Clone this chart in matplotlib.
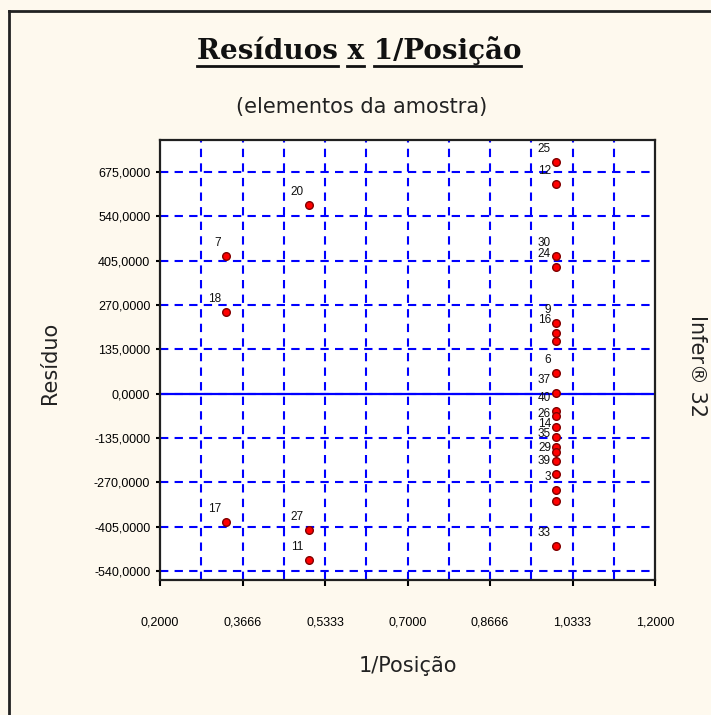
import matplotlib
matplotlib.use("Agg")
import matplotlib.pyplot as plt
from matplotlib.lines import Line2D
import numpy as np

# ---- data ----
inv_pos = [1/3, 1/3, 1/3,
           0.5, 0.5, 0.5,
           1.0, 1.0, 1.0, 1.0, 1.0, 1.0, 1.0, 1.0, 1.0, 1.0,
           1.0, 1.0, 1.0, 1.0, 1.0, 1.0, 1.0, 1.0, 1.0, 1.0]
residuals = [419, 249, -392,
             574, -415, -506,
             706, 639, 419, 385, 216, 184, 159, 64, 1, -52,
             -67, -103, -133, -164, -179, -204, -245, -295, -326, -463]
point_labels = ['7', '18', '17',
                '20', '27', '11',
                '25', '12', '30', '24', '9', '16', '', '6', '37', '40',
                '', '26', '14', '35', '', '29', '39', '3', '', '33']

xtick_vals = [0.2, 0.2 + 1/6, 0.2 + 2/6, 0.7, 0.2 + 4/6, 0.2 + 5/6, 1.2]
xtick_labels = ['0,2000', '0,3666', '0,5333', '0,7000', '0,8666', '1,0333', '1,2000']
xminor_vals = [0.2 + k/12 for k in range(13)]
ytick_vals = [-540, -405, -270, -135, 0, 135, 270, 405, 540, 675]
ytick_labels = ['-540,0000', '-405,0000', '-270,0000', '-135,0000', '0,0000',
                '135,0000', '270,0000', '405,0000', '540,0000', '675,0000']

title_words = ['Resíduos', 'x', '1/Posição']
subtitle = '(elementos da amostra)'
xlabel = '1/Posição'
ylabel = 'Resíduo'
side_text = 'Infer® 32'

# ---- figure ----
W, H = 711, 715
bg = '#fef9ee'
fig = plt.figure(figsize=(W/100, H/100), dpi=100, facecolor=bg)
ax = fig.add_axes([160/W, 1 - 580/H, (655-160)/W, (580-140)/H])
ax.set_facecolor('white')

ax.set_xlim(0.2, 1.2)
ax.set_ylim(-568, 773)

blue = '#0000ff'
ax.set_xticks(xtick_vals)
ax.set_xticklabels(xtick_labels)
ax.set_xticks(xminor_vals, minor=True)
ax.set_yticks(ytick_vals)
ax.set_yticklabels(ytick_labels)
for v in xminor_vals[1:-1]:
    ax.axvline(v, color=blue, lw=1.5, ls=(0, (4, 3)), zorder=1)
for v in ytick_vals:
    ax.axhline(v, color=blue, lw=1.5, ls=(0, (4, 3)), zorder=1)
ax.axhline(0, color=blue, lw=1.6, zorder=2)

ax.tick_params(axis='x', which='major', length=4, width=1.5, pad=22,
               labelsize=9, direction='out')
ax.tick_params(axis='x', which='minor', length=0)
ax.tick_params(axis='y', which='major', length=3, width=1.5, pad=4,
               labelsize=9, direction='out')
for lab in ax.get_xticklabels() + ax.get_yticklabels():
    lab.set_fontfamily('Liberation Sans')

for s in ax.spines.values():
    s.set_linewidth(1.6)
    s.set_color('#202020')

ax.plot(inv_pos, residuals, linestyle='none', marker='o', markersize=5.5,
        markerfacecolor='#ff0000', markeredgecolor='#800000',
        markeredgewidth=1.0, zorder=4)
for xv, yv, lb in zip(inv_pos, residuals, point_labels):
    if lb:
        ax.annotate(lb, (xv, yv), xytext=(-5, 13), textcoords='offset pixels',
                    ha='right', va='center', fontsize=8.5,
                    family='Liberation Sans', color='#111111', zorder=5)

# axis labels
fig.text(408/W, 1 - 666/H, xlabel, ha='center', va='center',
         fontsize=15, family='DejaVu Sans', color='#222222')
fig.text(50/W, 1 - 363/H, ylabel, ha='center', va='center', rotation=90,
         fontsize=15, family='DejaVu Sans', color='#222222')
fig.text(697/W, 1 - 366/H, side_text, ha='center', va='center', rotation=-90,
         fontsize=15, family='DejaVu Sans', color='#222222')
fig.text(362/W, 1 - 107/H, subtitle, ha='center', va='center',
         fontsize=15, family='DejaVu Sans', color='#222222')

# title with per-word underline
title = ' '.join(title_words)
tfont = dict(fontsize=20, family='DejaVu Serif', fontweight='bold', color='#111111')
t = fig.text(359/W, 1 - 59/H, title, ha='center', va='baseline', **tfont)
fig.canvas.draw()
r = fig.canvas.get_renderer()
bb = t.get_window_extent(r)
x0 = bb.x0
uy = 1 - 66/H


def width_of(s):
    if not s:
        return 0.0
    tt = fig.text(0, 0, s.replace(' ', '\u00a0'), **tfont)
    wd = tt.get_window_extent(r).width
    tt.remove()
    return wd


prefix = ''
for w in title_words:
    xa = x0 + width_of(prefix)
    xb = x0 + width_of(prefix + w)
    fig.add_artist(Line2D([xa/W, xb/W], [uy, uy], transform=fig.transFigure,
                          color='#111111', lw=2.0))
    prefix = prefix + w + ' '

# outer border (left and top)
fig.add_artist(Line2D([9/W, 9/W], [0, 1 - 11/H], transform=fig.transFigure,
                      color='#222222', lw=2.0))
fig.add_artist(Line2D([9/W, 1], [1 - 11/H, 1 - 11/H], transform=fig.transFigure,
                      color='#222222', lw=2.0))

fig.savefig('out.png', dpi=100, facecolor=bg)
